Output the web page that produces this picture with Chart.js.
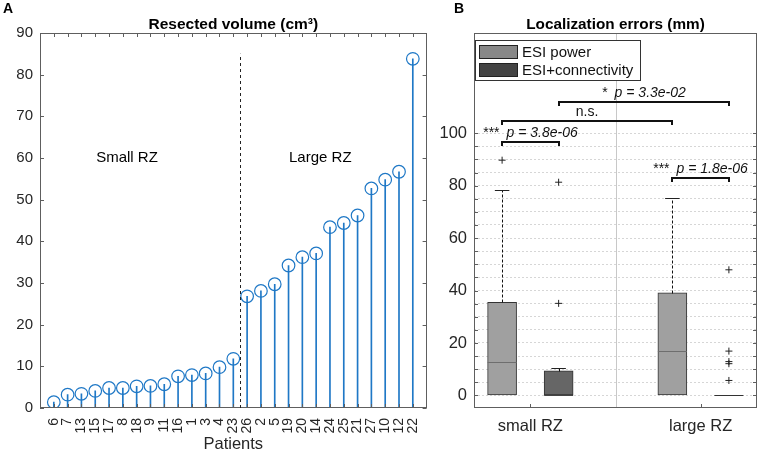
<!DOCTYPE html>
<html>
<head>
<meta charset="utf-8">
<script src="https://cdn.jsdelivr.net/npm/chart.js@4.4.1/dist/chart.umd.min.js"></script>
<style>
html, body { margin: 0; padding: 0; background: #fff; }
#wrap { position: relative; width: 762px; height: 452px; }
canvas { position: absolute; top: 0; }
#volChart { left: 0; }
#errChart { left: 440px; }
</style>
</head>
<body>
<div id="wrap">
  <canvas id="volChart" width="440" height="452"></canvas>
  <canvas id="errChart" width="322" height="452"></canvas>
</div>
<script>
// ---- panel A data ----
const patientIds = ['6','7','13','15','17','8','18','9','11','16','1','3','4','23',
                    '26','2','5','19','20','14','24','25','21','27','10','12','22'];
const volumes = [1.4, 3.2, 3.4, 4.1, 4.8, 4.8, 5.2, 5.3, 5.7, 7.6, 7.9, 8.3, 9.8, 11.8,
                 26.8, 28.1, 29.7, 34.2, 36.2, 37.1, 43.4, 44.4, 46.2, 52.7, 54.8, 56.7, 83.8];
const splitPos = 14.5;      // between patient 23 and 26
const splitTop = 85;
const groupLabelsA = ['Small RZ', 'Large RZ'];

// ---- panel B data ----
const groupNames = ['small RZ', 'large RZ'];
const seriesNames = ['ESI power', 'ESI+connectivity'];
const powerQ1 = [0, 0];
const powerMedian = [12.7, 16.9];
const powerQ3 = [35.5, 39.1];
const powerLow = [0, 0];
const powerHigh = [78.5, 75.3];
const powerOutliers = [[89.7], []];
const connQ1 = [0, 0];
const connMedian = [0, 0];
const connQ3 = [9.4, 0];
const connLow = [0, 0];
const connHigh = [10.3, 0];
const connOutliers = [[35.1, 81.3], [47.9, 16.9, 12.9, 12.1, 5.7]];
const errTickLabels = [0, 20, 40, 60, 80, 100];
const bracketStart = [0.834, 0.834, 1.166, 1.834];
const bracketEnd   = [1.166, 1.834, 2.166, 2.166];
const bracketLevel = [96.7, 104.6, 112.0, 82.8];
const bracketStars = ['***', '', '*', '***'];
const bracketText  = ['p = 3.8e-06', 'n.s.', 'p = 3.3e-02', 'p = 1.8e-06'];

const FONT = "'Liberation Sans', Arial, Helvetica, sans-serif";
const TXT = '#262626';
const FRAME = '#5e5e5e';
const BLUE = '#1f78c6';
const BOX_OFF = 0.166;
const BOX_W = 29;

function line(ctx, x1, y1, x2, y2) {
    ctx.beginPath();
    ctx.moveTo(x1, y1);
    ctx.lineTo(x2, y2);
    ctx.stroke();
}

function drawFrame(ctx, a) {
    ctx.strokeStyle = FRAME;
    ctx.lineWidth = 1;
    ctx.strokeRect(Math.round(a.left) + 0.5, Math.round(a.top) + 0.5,
                   Math.round(a.right - a.left) - 1, Math.round(a.bottom - a.top) - 1);
}

// ---------------- panel A ----------------
const stemDecor = {
    id: 'stemDecor',
    afterDraw(chart) {
        const ctx = chart.ctx, a = chart.chartArea;
        const x = chart.scales.x, y = chart.scales.y;
        ctx.save();
        drawFrame(ctx, a);
        // inward ticks
        ctx.strokeStyle = FRAME;
        for (let i = 1; i <= patientIds.length; i++) {
            const px = Math.round(x.getPixelForValue(i)) + 0.5;
            line(ctx, px, a.top, px, a.top + 4);
            line(ctx, px, a.bottom, px, a.bottom - 4);
        }
        for (let v = 0; v <= 90; v += 10) {
            const py = Math.round(y.getPixelForValue(v)) + 0.5;
            line(ctx, a.left, py, a.left + 4, py);
            line(ctx, a.right, py, a.right - 4, py);
        }
        // split line
        ctx.strokeStyle = '#222';
        ctx.setLineDash([3, 3]);
        const sx = Math.round(x.getPixelForValue(splitPos)) + 0.5;
        line(ctx, sx, y.getPixelForValue(0), sx, y.getPixelForValue(splitTop));
        ctx.setLineDash([]);
        // group labels
        ctx.fillStyle = '#000';
        ctx.font = '15px ' + FONT;
        ctx.textAlign = 'center';
        ctx.textBaseline = 'middle';
        ctx.fillText(groupLabelsA[0], x.getPixelForValue(6.3), y.getPixelForValue(60));
        ctx.fillText(groupLabelsA[1], x.getPixelForValue(20.3), y.getPixelForValue(60));
        // title, axis label, panel letter
        const cx = (a.left + a.right) / 2;
        ctx.font = 'bold 15.5px ' + FONT;
        ctx.fillText('Resected volume (cm\u00B3)', cx, 25);
        ctx.font = '16.5px ' + FONT;
        ctx.fillStyle = TXT;
        ctx.fillText('Patients', cx, 444);
        ctx.fillStyle = '#000';
        ctx.font = 'bold 14px ' + FONT;
        ctx.textAlign = 'left';
        ctx.fillText('A', 3, 9);
        ctx.restore();
    }
};

new Chart(document.getElementById('volChart'), {
    data: {
        datasets: [{
            type: 'bar',
            data: volumes.map((v, i) => ({ x: i + 1, y: v })),
            backgroundColor: BLUE,
            borderWidth: 0,
            barThickness: 1
        }, {
            type: 'line',
            data: volumes.map((v, i) => ({ x: i + 1, y: v })),
            showLine: false,
            pointStyle: 'circle',
            pointRadius: 6.3,
            pointBorderWidth: 1.2,
            pointBorderColor: BLUE,
            pointBackgroundColor: 'rgba(0,0,0,0)'
        }]
    },
    options: {
        animation: false,
        responsive: false,
        layout: { padding: { top: 33, right: 11, left: 0, bottom: 0 } },
        plugins: { legend: { display: false }, tooltip: { enabled: false } },
        scales: {
            x: {
                type: 'linear', min: 0, max: 28, offset: false,
                afterBuildTicks: s => { s.ticks = patientIds.map((p, i) => ({ value: i + 1 })); },
                afterFit: s => { s.height = 44; },
                ticks: {
                    autoSkip: false, minRotation: 90, maxRotation: 90, padding: 10,
                    color: TXT, font: { family: FONT, size: 14 },
                    callback: v => patientIds[v - 1]
                },
                grid: { display: false, drawTicks: false },
                border: { display: false }
            },
            y: {
                min: 0, max: 90,
                afterFit: s => { s.width = 40; },
                ticks: { stepSize: 10, padding: 7, color: TXT, font: { family: FONT, size: 15 } },
                grid: { display: false, drawTicks: false },
                border: { display: false }
            }
        }
    },
    plugins: [stemDecor]
});

// ---------------- panel B ----------------
const boxStats = [
    { q1: powerQ1, med: powerMedian, q3: powerQ3, lo: powerLow, hi: powerHigh, off: -BOX_OFF, medColor: '#6e6e6e' },
    { q1: connQ1, med: connMedian, q3: connQ3, lo: connLow, hi: connHigh, off: BOX_OFF, medColor: '#444' }
];

const boxDecor = {
    id: 'boxDecor',
    beforeDatasetsDraw(chart) {
        const ctx = chart.ctx, a = chart.chartArea, x = chart.scales.x;
        ctx.save();
        ctx.strokeStyle = '#c8c8c8';
        ctx.lineWidth = 1;
        const px = Math.round(x.getPixelForValue(1.5)) + 0.5;
        line(ctx, px, a.top, px, a.bottom);
        ctx.restore();
    },
    afterDatasetsDraw(chart) {
        const ctx = chart.ctx, x = chart.scales.x, y = chart.scales.y;
        ctx.save();
        ctx.lineWidth = 1;
        boxStats.forEach(st => {
            groupNames.forEach((g, i) => {
                const cx = x.getPixelForValue(i + 1 + st.off);
                const px = Math.round(cx) + 0.5;
                const py = v => Math.round(y.getPixelForValue(v)) + 0.5;
                ctx.strokeStyle = '#111';
                ctx.setLineDash([3, 2]);
                if (st.hi[i] > st.q3[i]) line(ctx, px, py(st.q3[i]), px, py(st.hi[i]));
                if (st.lo[i] < st.q1[i]) line(ctx, px, py(st.q1[i]), px, py(st.lo[i]));
                ctx.setLineDash([]);
                ctx.strokeStyle = '#222';
                if (st.hi[i] > st.q3[i]) line(ctx, cx - BOX_W / 4, py(st.hi[i]), cx + BOX_W / 4, py(st.hi[i]));
                ctx.strokeStyle = (st.q3[i] === st.q1[i]) ? '#333' : st.medColor;
                line(ctx, cx - BOX_W / 2, py(st.med[i]), cx + BOX_W / 2, py(st.med[i]));
            });
        });
        ctx.restore();
    },
    afterDraw(chart) {
        const ctx = chart.ctx, a = chart.chartArea, x = chart.scales.x, y = chart.scales.y;
        ctx.save();
        drawFrame(ctx, a);
        ctx.strokeStyle = FRAME;
        for (let v = 0; v <= 100; v += 5) {
            const py = Math.round(y.getPixelForValue(v)) + 0.5;
            line(ctx, a.left, py, a.left + 4, py);
            line(ctx, a.right, py, a.right - 4, py);
        }
        groupNames.forEach((g, i) => {
            const px = Math.round(x.getPixelForValue(i + 1)) + 0.5;
            line(ctx, px, a.bottom, px, a.bottom - 4);
        });
        // significance brackets
        bracketText.forEach((t, k) => {
            const x1 = Math.round(x.getPixelForValue(bracketStart[k]));
            const x2 = Math.round(x.getPixelForValue(bracketEnd[k]));
            const by = Math.round(y.getPixelForValue(bracketLevel[k]));
            ctx.strokeStyle = '#111';
            ctx.lineWidth = 2;
            ctx.beginPath();
            ctx.moveTo(x1, by + 4);
            ctx.lineTo(x1, by);
            ctx.lineTo(x2, by);
            ctx.lineTo(x2, by + 4);
            ctx.stroke();
            ctx.fillStyle = '#111';
            ctx.textBaseline = 'alphabetic';
            ctx.textAlign = 'left';
            const mid = (x1 + x2) / 2;
            const starFont = '14px ' + FONT;
            const pFont = (bracketStars[k] ? 'italic ' : '') + '14px ' + FONT;
            ctx.font = starFont;
            const sw = bracketStars[k] ? ctx.measureText(bracketStars[k]).width + 7 : 0;
            ctx.font = pFont;
            const pw = ctx.measureText(t).width;
            const left = mid - (sw + pw) / 2;
            if (bracketStars[k]) {
                ctx.font = starFont;
                ctx.fillText(bracketStars[k], left, by - 5);
            }
            ctx.font = pFont;
            ctx.fillText(t, left + sw, by - 5);
        });
        // legend
        const lx = a.left + 1, ly = a.top + 7;
        ctx.fillStyle = '#fff';
        ctx.fillRect(lx, ly, 165, 40);
        ctx.lineWidth = 1;
        ctx.strokeStyle = '#333';
        ctx.strokeRect(lx + 0.5, ly + 0.5, 165, 40);
        const swatch = ['#888888', '#444444'];
        ctx.font = '15px ' + FONT;
        ctx.textBaseline = 'middle';
        ctx.textAlign = 'left';
        seriesNames.forEach((n, k) => {
            const sy = ly + 5 + k * 18;
            ctx.fillStyle = swatch[k];
            ctx.fillRect(lx + 4, sy, 39, 14);
            ctx.strokeStyle = '#222';
            ctx.strokeRect(lx + 4.5, sy + 0.5, 38, 13);
            ctx.fillStyle = '#111';
            ctx.fillText(n, lx + 47, sy + 7.5);
        });
        // title and panel letter
        ctx.fillStyle = '#000';
        ctx.textAlign = 'center';
        ctx.font = 'bold 15.3px ' + FONT;
        ctx.fillText('Localization errors (mm)', (a.left + a.right) / 2, 25);
        ctx.textAlign = 'left';
        ctx.font = 'bold 14px ' + FONT;
        ctx.fillText('B', 14, 9);
        ctx.restore();
    }
};

const boxColors = ['#a0a0a0', '#666666'];
const boxDatasets = boxStats.map((st, s) => ({
    type: 'bar',
    label: seriesNames[s],
    data: groupNames.map((g, i) => ({ x: i + 1 + st.off, y: [st.q1[i], st.q3[i]] })),
    backgroundColor: boxColors[s],
    borderColor: '#333',
    borderWidth: 1,
    borderSkipped: false,
    barThickness: BOX_W,
    grouped: false
}));
const outlierDatasets = [powerOutliers, connOutliers].map((outs, s) => ({
    type: 'scatter',
    data: outs.flatMap((list, i) => list.map(v => ({ x: i + 1 + boxStats[s].off, y: v }))),
    pointStyle: 'cross',
    pointRadius: 3.5,
    pointBorderWidth: 1,
    pointBorderColor: '#222'
}));

new Chart(document.getElementById('errChart'), {
    data: { datasets: boxDatasets.concat(outlierDatasets) },
    options: {
        animation: false,
        responsive: false,
        layout: { padding: { top: 33, right: 2, left: 0, bottom: 0 } },
        plugins: { legend: { display: false }, tooltip: { enabled: false } },
        scales: {
            x: {
                type: 'linear', min: 0.669, max: 2.331, offset: false,
                afterBuildTicks: s => { s.ticks = groupNames.map((g, i) => ({ value: i + 1 })); },
                afterFit: s => { s.height = 44; },
                ticks: {
                    autoSkip: false, maxRotation: 0, padding: 9,
                    color: TXT, font: { family: FONT, size: 16.5 },
                    callback: v => groupNames[v - 1]
                },
                grid: { display: false, drawTicks: false },
                border: { display: false }
            },
            y: {
                min: -4.8, max: 138.2,
                afterBuildTicks: s => {
                    const t = [];
                    for (let v = 0; v <= 100; v += 5) t.push({ value: v });
                    s.ticks = t;
                },
                afterFit: s => { s.width = 34; },
                ticks: {
                    autoSkip: false, padding: 7, color: TXT, font: { family: FONT, size: 16.5 },
                    callback: v => errTickLabels.includes(v) ? String(v) : ''
                },
                grid: { color: '#d6d6d6', drawTicks: false },
                border: { display: false, dash: [2, 2] }
            }
        }
    },
    plugins: [boxDecor]
});
</script>
</body>
</html>
